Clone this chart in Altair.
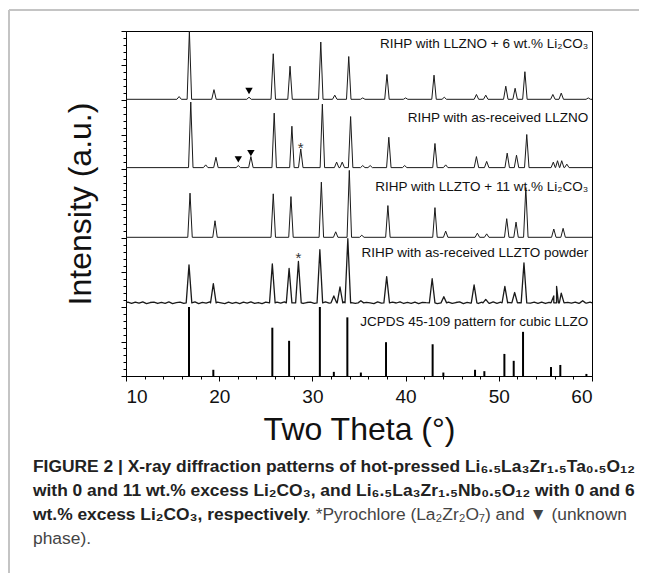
import altair as alt
import pandas as pd

# ---------------- data ----------------
X_DOMAIN = [10, 60]
Y_DOMAIN = [0, 5]

# baselines of the stacked patterns (stack units, one panel = 1)
BASES = {"t1": 4.01, "t2": 3.02, "t3": 2.01, "t4": 1.06}

# RIHP with LLZNO + 6 wt.% Li2CO3
T1_POS = [15.7, 16.8, 19.44, 23.2, 25.8, 27.6, 30.9, 32.4, 33.9, 35.4, 38.0, 40.0,
          43.05, 44.15, 47.6, 48.6, 50.75, 51.75, 52.8, 55.8, 56.7, 59.6]
T1_H = [0.04, 0.99, 0.14, 0.03, 0.66, 0.48, 0.83, 0.06, 0.62, 0.02, 0.36, 0.02,
        0.35, 0.03, 0.07, 0.06, 0.19, 0.16, 0.40, 0.07, 0.09, 0.02]

# RIHP with as-received LLZNO
T2_POS = [16.95, 18.55, 19.65, 22.05, 23.4, 25.9, 27.8, 28.75, 31.07, 32.6, 33.2,
          34.1, 35.4, 36.2, 38.2, 39.9, 43.15, 44.3, 47.6, 48.7, 50.9, 51.9, 53.0,
          55.85, 56.3, 56.75, 57.3]
T2_H = [0.95, 0.04, 0.15, 0.03, 0.16, 0.79, 0.60, 0.27, 0.92, 0.08, 0.08,
        0.74, 0.03, 0.03, 0.44, 0.03, 0.35, 0.04, 0.16, 0.09, 0.21, 0.18, 0.48,
        0.08, 0.10, 0.10, 0.05]

# RIHP with LLZTO + 11 wt.% Li2CO3
T3_POS = [16.87, 19.55, 25.8, 27.7, 30.96, 32.5, 33.96, 35.3, 38.1, 43.15, 44.3,
          47.7, 48.7, 50.85, 51.85, 52.9, 55.9, 56.9]
T3_H = [0.64, 0.24, 0.63, 0.59, 0.80, 0.08, 0.97, 0.03, 0.46, 0.43, 0.09,
        0.06, 0.05, 0.27, 0.22, 0.72, 0.12, 0.13]

# RIHP with as-received LLZTO powder
T4_POS = [16.76, 19.37, 25.7, 27.5, 28.5, 30.8, 32.3, 32.96, 33.8, 35.2,
          37.97, 42.85, 44.1, 47.35, 48.6, 50.65, 51.7, 52.7, 55.9, 56.2, 56.7, 59.0]
T4_H = [0.55, 0.28, 0.565, 0.50, 0.60, 0.77, 0.10, 0.23, 0.93, 0.03,
        0.38, 0.35, 0.09, 0.26, 0.05, 0.24, 0.15, 0.58, 0.10, 0.24, 0.14, 0.03]
# estimated baseline noise of the as-received LLZTO pattern (stack units),
# one value every 0.4 degree starting at 10.2 degrees
T4_NOISE = [0.01, -0.008, 0.012, -0.005, 0.015, -0.01, 0.005, 0.011, -0.009, 0.008,
            -0.006, 0.014, -0.01, 0.003, 0.012, -0.008, 0.009, -0.004, 0.015, -0.011,
            0.006, -0.005, 0.013, -0.009, 0.01, 0.0, -0.01, 0.012, -0.006, 0.008,
            -0.01, 0.011, -0.003, 0.014, -0.008, 0.005, -0.011, 0.012, 0.002, -0.008,
            0.01, -0.005, 0.015, -0.01, 0.007, -0.004, 0.013, -0.009, 0.005, 0.011,
            -0.007, 0.009, -0.011, 0.013, -0.003, 0.01, -0.008, 0.006, 0.014, -0.01,
            0.004, -0.006, 0.012, -0.009, 0.008, 0.001, -0.01, 0.013, -0.005, 0.009,
            -0.008, 0.011, -0.002, 0.015, -0.009, 0.006, -0.006, 0.012, -0.01, 0.008,
            0.003, -0.007, 0.014, -0.011, 0.009, -0.003, 0.011, -0.008, 0.005, 0.013,
            -0.01, 0.007, -0.005, 0.012, -0.009, 0.01, 0.0, -0.007, 0.014, -0.006,
            0.009, -0.01, 0.006, 0.012, -0.008, 0.004, -0.011, 0.013, -0.003, 0.01,
            -0.007, 0.011, -0.009, 0.008, 0.002, -0.006, 0.014, -0.01, 0.007, -0.004,
            0.012, -0.008, 0.01, -0.005, 0.009]
NOISE_START, NOISE_STEP = 10.2, 0.4

# JCPDS 45-109 reference lines
REF_POS = [16.76, 19.37, 25.7, 27.5, 30.8, 32.3, 33.75, 35.2, 37.9, 42.9, 44.05,
           47.45, 48.45, 50.6, 51.6, 52.6, 55.6, 56.6, 59.4]
REF_H = [1.0, 0.09, 0.70, 0.51, 1.0, 0.06, 0.85, 0.05, 0.49, 0.46, 0.05,
         0.09, 0.07, 0.32, 0.22, 0.64, 0.13, 0.16, 0.03]

LABELS = ["RIHP with LLZNO + 6 wt.% Li\u2082CO\u2083",
          "RIHP with as-received LLZNO",
          "RIHP with LLZTO + 11 wt.% Li\u2082CO\u2083",
          "RIHP with as-received LLZTO powder",
          "JCPDS 45-109 pattern for cubic LLZO"]
LABEL_X = [59.6, 59.6, 59.6, 59.6, 59.6]
LABEL_Y = [4.81, 3.745, 2.74, 1.78, 0.78]

TRI_X = [23.2, 22.05, 23.4]
TRI_Y = [4.13, 3.14, 3.23]
STAR_X = [28.74, 28.5]
STAR_Y = [3.36, 1.77]

CAPTION_BOLD = [
    "FIGURE 2 | X-ray diffraction patterns of hot-pressed Li\u2086.\u2085La\u2083Zr\u2081.\u2085Ta\u2080.\u2085O\u2081\u2082",
    "with 0 and 11 wt.% excess Li\u2082CO\u2083, and Li\u2086.\u2085La\u2083Zr\u2081.\u2085Nb\u2080.\u2085O\u2081\u2082 with 0 and 6",
    "wt.% excess Li\u2082CO\u2083, respectively",
]
CAPTION_REG = [
    ". *Pyrochlore (La\u2082Zr\u2082O\u2087) and \u25bc (unknown",
    "phase).",
]

# ---------------- build tables ----------------
HW = {"t1": 0.24, "t2": 0.24, "t3": 0.24, "t4": 0.3}
SW = {"t1": 1.0, "t2": 1.0, "t3": 1.0, "t4": 1.3}


def trace_rows(name, pos, hts, noise=None):
    b = BASES[name]
    hw = HW[name]
    rows = [(X_DOMAIN[0], b), (X_DOMAIN[1], b)]
    for p, h in zip(pos, hts):
        rows += [(p - hw, b), (p, b + h), (p + hw, b)]
    if noise:
        for i, n in enumerate(noise):
            x = NOISE_START + i * NOISE_STEP
            if all(abs(x - p) > hw + 0.05 for p in pos):
                rows.append((x, b + n))
    return [{"series": name, "x": x, "y": y, "sw": SW[name]} for x, y in rows]


rows = (trace_rows("t1", T1_POS, T1_H) + trace_rows("t2", T2_POS, T2_H)
        + trace_rows("t3", T3_POS, T3_H) + trace_rows("t4", T4_POS, T4_H, T4_NOISE))
traces = pd.DataFrame(rows)
ref = pd.DataFrame({"x": REF_POS, "y0": [0.0] * len(REF_POS), "y": REF_H})
labels = pd.DataFrame({"label": LABELS, "x": LABEL_X, "y": LABEL_Y})
tris = pd.DataFrame({"x": TRI_X, "y": TRI_Y})
stars = pd.DataFrame({"x": STAR_X, "y": STAR_Y, "t": ["*"] * len(STAR_X)})

# ---------------- layout (pixels) ----------------
PLOT_W, PLOT_H = 466, 345
PAD_L, PAD_T = 118, 23
CANVAS_W, CANVAS_H = 631, 565
CAP_X = -93
CAP_Y0 = 436
CAP_DY = 24
CAP_REG_X = 180
CAP_SIZE = 17.4

cap_b = pd.DataFrame({"t": CAPTION_BOLD,
                      "px": [CAP_X] * len(CAPTION_BOLD),
                      "py": [CAP_Y0 + i * CAP_DY for i in range(len(CAPTION_BOLD))]})
cap_r = pd.DataFrame({"t": CAPTION_REG,
                      "px": [CAP_REG_X, CAP_X],
                      "py": [CAP_Y0 + 2 * CAP_DY, CAP_Y0 + 3 * CAP_DY]})

FONT = "Liberation Sans, Arial, Helvetica, sans-serif"
xs = alt.Scale(domain=X_DOMAIN, nice=False, zero=False)
ys = alt.Scale(domain=Y_DOMAIN, nice=False, zero=False)

x_major = alt.Axis(values=[10, 20, 30, 40, 50, 60], format="d", orient="bottom",
                   title="Two Theta (\u00b0)", tickSize=5, labelFontSize=19,
                   labelPadding=6, titleFontSize=32, titleFontWeight="normal",
                   titlePadding=8, grid=False, labelFont=FONT, titleFont=FONT)
x_minor = alt.Axis(values=[v for v in range(12, 60, 2) if v % 10], orient="bottom",
                   labels=False, domain=False, tickSize=3, grid=False, title="")
y_major = alt.Axis(values=[i * 0.5 for i in range(11)], orient="left", labels=False,
                   tickSize=5, grid=False, title="Intensity (a.u.)", titleFontSize=32,
                   titleFontWeight="normal", titlePadding=23, titleFont=FONT)
y_minor = alt.Axis(values=[round(i * 0.1, 1) for i in range(51) if i % 5], orient="left",
                   labels=False, domain=False, tickSize=3, grid=False, title="")

line_layer = alt.Chart(traces).mark_line(color="#1a1a1a", strokeJoin="round").encode(
    x=alt.X("x:Q", scale=xs, axis=x_major),
    y=alt.Y("y:Q", scale=ys, axis=y_major),
    detail="series:N",
    order="x:Q",
    strokeWidth=alt.StrokeWidth("sw:Q", scale=None),
)

ref_layer = alt.Chart(ref).mark_rule(color="black", strokeWidth=2).encode(
    x=alt.X("x:Q", scale=xs, axis=x_minor),
    y=alt.Y("y0:Q", scale=ys, axis=y_minor),
    y2="y:Q",
)

label_layer = alt.Chart(labels).mark_text(align="right", baseline="middle",
                                          font=FONT, fontSize=13.5, color="#111").encode(
    x=alt.X("x:Q", scale=xs, axis=None),
    y=alt.Y("y:Q", scale=ys, axis=None),
    text="label:N",
)

tri_layer = alt.Chart(tris).mark_point(shape="triangle-down", filled=True, color="black",
                                       size=55, opacity=1).encode(
    x=alt.X("x:Q", scale=xs, axis=None),
    y=alt.Y("y:Q", scale=ys, axis=None),
)

star_layer = alt.Chart(stars).mark_text(font=FONT, fontSize=15, baseline="middle",
                                        dy=4, color="#333").encode(
    x=alt.X("x:Q", scale=xs, axis=None),
    y=alt.Y("y:Q", scale=ys, axis=None),
    text="t:N",
)

cap_bold_layer = alt.Chart(cap_b).mark_text(align="left", baseline="middle", font=FONT,
                                            fontSize=CAP_SIZE, fontWeight="bold",
                                            color="#222").encode(
    x=alt.X("px:Q", scale=None, axis=None),
    y=alt.Y("py:Q", scale=None, axis=None),
    text="t:N",
)
cap_reg_layer = alt.Chart(cap_r).mark_text(align="left", baseline="middle", font=FONT,
                                           fontSize=CAP_SIZE, color="#444").encode(
    x=alt.X("px:Q", scale=None, axis=None),
    y=alt.Y("py:Q", scale=None, axis=None),
    text="t:N",
)

one = pd.DataFrame({"a": [0]})
frame_top = alt.Chart(one).mark_rule(color="#c4c4c4", strokeWidth=2).encode(
    x=alt.value(-117), x2=alt.value(CANVAS_W - PAD_L), y=alt.value(-21))
frame_left = alt.Chart(one).mark_rule(color="#c4c4c4", strokeWidth=2).encode(
    x=alt.value(-117), y=alt.value(-21), y2=alt.value(CANVAS_H - PAD_T))

chart = alt.layer(
    frame_top, frame_left, ref_layer, line_layer, label_layer, tri_layer, star_layer,
    cap_bold_layer, cap_reg_layer,
).resolve_axis(x="independent", y="independent").properties(
    width=PLOT_W, height=PLOT_H,
    autosize=alt.AutoSizeParams(type="none"),
    padding={"left": PAD_L, "top": PAD_T, "right": CANVAS_W - PAD_L - PLOT_W,
             "bottom": CANVAS_H - PAD_T - PLOT_H},
    background="white",
).configure_view(stroke="black", strokeWidth=1).configure_axis(
    domainColor="black", tickColor="black", labelColor="#111", titleColor="#111",
    domainWidth=1, tickWidth=1,
)

chart.save("out.html", embed_options={"renderer": "svg", "actions": False})
